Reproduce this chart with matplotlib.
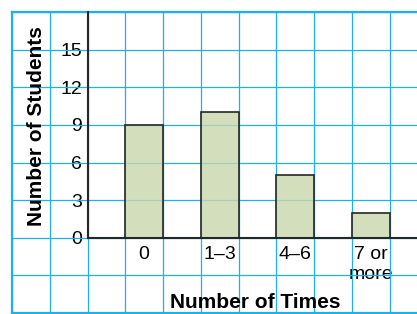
import numpy as np
import matplotlib
matplotlib.use("Agg")
import matplotlib.pyplot as plt

categories = ["0", "1\u20133", "4\u20136", "7 or\nmore"]
students = [9, 10, 5, 2]
y_ticks = [0, 3, 6, 9, 12, 15]

CYAN = "#1eb1e8"
BAR = (200/255, 215/255, 171/255, 0.8)
EDGE = "#262626"

plt.rcParams['font.family'] = ['Liberation Sans', 'DejaVu Sans']

W, H = 417, 314
fig = plt.figure(figsize=(W/100, H/100), dpi=100)
ax = fig.add_axes([12/W, 1/H, 405/W, 301/H])

xmax = -2 + 405/37.75
ax.set_xlim(-2, xmax)
ax.set_ylim(-6, 18)

# bars occupy cells [1,2], [3,4], ...
pos = [1.5 + 2*i for i in range(len(categories))]
ax.bar(pos, students, width=1.0, facecolor=BAR, edgecolor=EDGE, linewidth=1.2, zorder=3)

# grid (minor ticks)
ax.xaxis.remove_overlapping_locs = False
ax.yaxis.remove_overlapping_locs = False
ax.set_xticks(np.arange(-2, 9), minor=True)
ax.set_yticks(np.arange(-6, 19, 3), minor=True)
ax.grid(which='minor', color=CYAN, linewidth=0.9, zorder=1)
ax.set_axisbelow(True)

# major ticks for labels
ax.set_xticks(pos)
ax.set_xticklabels(categories)
ax.set_yticks(y_ticks)
ax.set_yticklabels([str(v) for v in y_ticks])
ax.tick_params(which='both', length=0, labelsize=14)
ax.tick_params(axis='x', pad=6)
ax.tick_params(axis='y', pad=4)
for lbl in ax.get_xticklabels():
    lbl.set_linespacing(1.6)
    lbl.set_multialignment('center')

# axis spines at zero
ax.spines['left'].set_position(('data', 0))
ax.spines['bottom'].set_position(('data', 0))
ax.spines['left'].set_bounds(0, 18)
ax.spines['bottom'].set_bounds(0, xmax)
for s in ('left', 'bottom'):
    ax.spines[s].set_color(EDGE)
    ax.spines[s].set_linewidth(1.5)
    ax.spines[s].set_zorder(4)
ax.spines['right'].set_visible(False)
ax.spines['top'].set_color(CYAN)
ax.spines['top'].set_linewidth(1.6)

# outer borders
ax.axvline(-2, color=CYAN, linewidth=1.6, clip_on=False, zorder=2)
ax.axhline(-6, color=CYAN, linewidth=1.6, clip_on=False, zorder=2)

ax.set_ylabel("Number of Students", fontsize=15, fontweight='bold', va='center')
ax.yaxis.set_label_coords(0.0593, 0.621)
ax.set_xlabel("Number of Times", fontsize=15, fontweight='bold', va='center')
ax.xaxis.set_label_coords(0.60, 0.0365)

fig.savefig("out.png", dpi=100)
